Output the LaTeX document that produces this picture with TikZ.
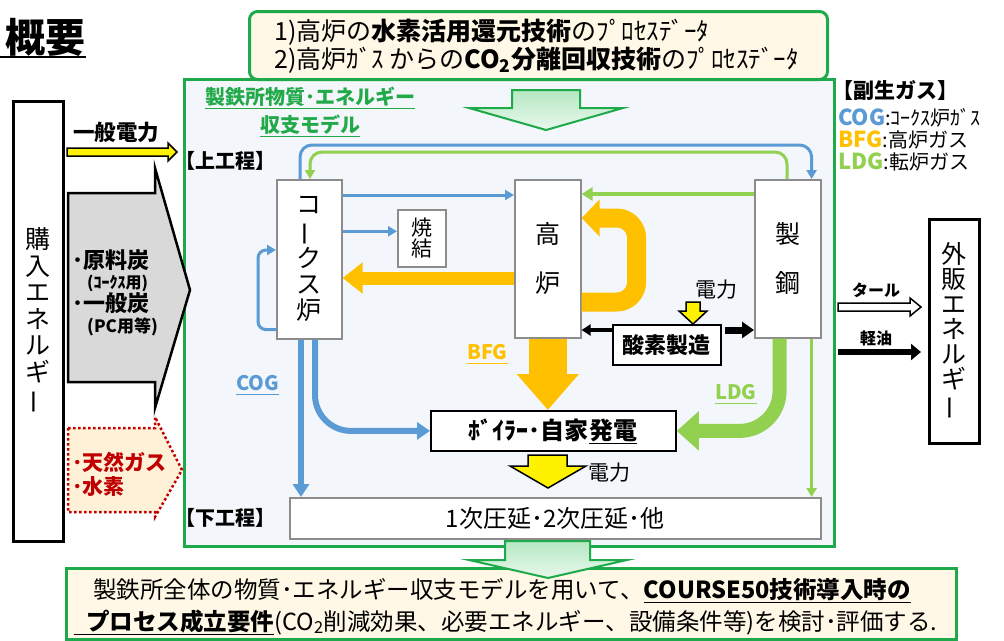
\documentclass[tikz,border=0pt]{standalone}
\usepackage{fontspec}
\setmainfont{Noto Sans CJK JP}
\usepackage{graphicx}
\usetikzlibrary{arrows.meta}
\definecolor{gborder}{HTML}{1EAA4A}
\definecolor{gtext}{HTML}{22AA4A}
\definecolor{cob}{HTML}{5B9BD5}
\definecolor{bfo}{HTML}{FFC000}
\definecolor{ldg}{HTML}{92D050}
\definecolor{cream}{HTML}{FFF8E6}
\definecolor{panel}{HTML}{F3F6FA}
\definecolor{graya}{HTML}{D9D9D9}
\definecolor{darkred}{HTML}{C00000}
\definecolor{creamred}{HTML}{FFF0D8}
\definecolor{boxgray}{HTML}{8C8C8C}
\definecolor{ltgreen}{HTML}{B5E8C2}
\newcommand{\fsz}[1]{\fontsize{#1}{#1}\selectfont}
\newcommand{\vbar}{\rotatebox[origin=c]{90}{ー}}
\begin{document}
\begin{tikzpicture}[x=1pt,y=-1pt,
  proc/.style={draw=boxgray, fill=white, line width=1.6pt, inner sep=0pt, anchor=north west, align=center},
  blk/.style={draw=black, fill=white, line width=1.8pt, inner sep=0pt, anchor=north west, align=center},
  lbl/.style={inner sep=0pt},
  uline/.style={line width=1.8pt},
  cobarr/.style={draw=cob, line width=3pt, -{Triangle[length=9pt,width=10pt]}},
  ldgarr/.style={draw=ldg, line width=3pt, -{Triangle[length=9pt,width=10pt]}},
  blockarr/.style={draw=black, line width=1.5pt, line join=miter}
]
\useasboundingbox (0,0) rectangle (1004,640);
\fill[white] (0,0) rectangle (1004,640);
\coordinate (origin) at (0,0);

% title
\node[lbl, anchor=base east, font=\bfseries\fsz{40}] (title) at (86,52) {概要};
\coordinate (tl) at ([yshift=-5pt]title.base east);
\draw[line width=2.2pt] (tl -| origin) -- (tl);

% main panel
\node[draw=gborder, fill=panel, line width=3pt, minimum width=650pt, minimum height=467pt, anchor=north west, inner sep=0pt] (panel) at (183,78) {};

% top box
\node[draw=gborder, fill=cream, line width=3pt, rounded corners=8pt, minimum width=578pt, minimum height=68pt, anchor=north west, inner sep=0pt] (topbox) at (248,10) {};
\node[lbl, anchor=base west, font=\fsz{25}] (t1) at (274,40) {1)高炉の\textbf{水素活用還元技術}のﾌﾟﾛｾｽﾃﾞｰﾀ};
\node[lbl, anchor=base west, font=\fsz{25}] (t2) at (274,68) {2)高炉ｶﾞｽ からの\textbf{CO\textsubscript{2}分離回収技術}のﾌﾟﾛｾｽﾃﾞｰﾀ};

% top green block arrow
\draw[draw=gborder, line width=2pt, top color=ltgreen, bottom color=ltgreen!30!white] (512,90) -- (580,90) -- (580,108) -- (623,108) -- (546,130) -- (469,108) -- (512,108) -- cycle;

% model title
\node[lbl, anchor=base, font=\bfseries\fsz{20}, text=gtext] (mt1) at (310,104) {製鉄所物質･エネルギー};
\draw[uline, draw=gtext] ([yshift=-4.5pt]mt1.base west) -- ([yshift=-4.5pt]mt1.base east);
\node[lbl, anchor=base, font=\bfseries\fsz{20}, text=gtext] (mt2) at (310,132) {収支モデル};
\draw[uline, draw=gtext] ([yshift=-4.5pt]mt2.base west) -- ([yshift=-4.5pt]mt2.base east);

\node[lbl, anchor=base west, font=\bfseries\fsz{20}] (up) at (175,168) {【上工程】};
\node[lbl, anchor=base west, font=\bfseries\fsz{20}] (down) at (175,525) {【下工程】};

% legend
\node[lbl, anchor=base west, font=\bfseries\fsz{21}] (lg0) at (832,98) {【副生ガス】};
\node[lbl, anchor=base west, font=\fsz{20}] (lg1) at (838,125) {\textcolor{cob}{\bfseries\fsz{22}COG}:ｺｰｸｽ炉ｶﾞｽ};
\node[lbl, anchor=base west, font=\fsz{20}] (lg2) at (838,147) {\textcolor{bfo}{\bfseries\fsz{22}BFG}:高炉ガス};
\node[lbl, anchor=base west, font=\fsz{20}] (lg3) at (838,169) {\textcolor{ldg}{\bfseries\fsz{22}LDG}:転炉ガス};

% process boxes
\node[proc, minimum width=65pt, minimum height=159pt, font=\fontsize{25}{26}\selectfont] (coke) at (276,179) {コ\\\vbar\\ク\\ス\\炉};
\node[proc, minimum width=48pt, minimum height=57pt, font=\fontsize{21}{21}\selectfont] (sinter) at (397,209) {焼\\結};
\node[proc, minimum width=66pt, minimum height=158pt, font=\fontsize{25}{49}\selectfont] (bf) at (514,179) {高\\炉};
\node[proc, minimum width=66pt, minimum height=158pt, font=\fontsize{25}{49}\selectfont] (steel) at (754,179) {製\\鋼};
\node[blk, minimum width=108pt, minimum height=40pt, font=\bfseries\fsz{22}] (oxy) at (612,324) {酸素製造};
\node[blk, minimum width=245pt, minimum height=40pt] (boiler) at (430,410) {};
\node[lbl, anchor=base east, font=\bfseries\fsz{24}] (bt1) at (589,439) {ﾎﾞｲﾗｰ･自家};
\node[lbl, anchor=base west, font=\bfseries\fsz{24}] (bt2) at (bt1.base east) {発電};
\draw[uline, draw=black] ([yshift=-4.5pt]bt2.base west) -- ([yshift=-4.5pt]bt2.base east);
\node[proc, minimum width=531pt, minimum height=41pt, font=\fsz{24}] (roll) at (289,497) {1次圧延･2次圧延･他};

% top loops
\draw[cobarr, rounded corners=12pt] ([xshift=24pt]coke.north west) -- ++(0,-34) -| ([xshift=-10pt]steel.north east);
\draw[ldgarr, rounded corners=12pt] ([xshift=33pt]steel.north west) -- ++(0,-27) -| ([xshift=34pt]coke.north west);

% coke -> bf, steel -> bf
\draw[cobarr] ([yshift=-16pt]coke.north east) -- ([yshift=-16pt]bf.north west);
\draw[draw=ldg, line width=4.5pt, -{Triangle[length=11pt,width=13pt]}] ([yshift=-15pt]steel.north west) -- ([yshift=-15pt]bf.north east);

% coke -> sinter
\coordinate (s1) at ([yshift=7pt]sinter.west);
\draw[cobarr] (s1 -| coke.east) -- (s1);

% coke self loop
\draw[cobarr, rounded corners=8pt] ([yshift=10pt]coke.south west) -- ++(-18,0) |- ([yshift=-71pt]coke.north west);

% orange bf -> coke
\coordinate (o1) at ([yshift=-99pt]bf.north west);
\draw[draw=bfo, line width=13pt, -{Triangle[length=20pt,width=30pt]}] (o1) -- (o1 -| coke.east);

% orange loop
\draw[draw=bfo, line width=19pt, rounded corners=20pt, -{Triangle[length=18pt,width=36pt]}] ([yshift=-123pt]bf.north east) -- ++(55,0) |- ([yshift=-39pt]bf.north east);

% BFG down
\draw[draw=bfo, line width=38pt, -{Triangle[length=36pt,width=60pt]}] (bf.south) -- (bf.south |- boiler.north);
\node[lbl, anchor=base west, font=\bfseries\fsz{20}, text=bfo] (bfg) at (467,359) {BFG};
\draw[uline, draw=bfo] ([yshift=-4.5pt]bfg.base west) -- ([yshift=-4.5pt]bfg.base east);

% COG
\coordinate (c1) at ([xshift=25pt]coke.south west);
\draw[draw=cob, line width=6pt, -{Triangle[length=13pt,width=16pt]}] (c1) -- (c1 |- roll.north);
\coordinate (c2) at ([xshift=39pt]coke.south west);
\draw[draw=cob, line width=6pt, rounded corners=36pt, -{Triangle[length=13pt,width=17pt]}] (c2) |- (boiler.west);
\node[lbl, anchor=base west, font=\bfseries\fsz{20}, text=cob] (cog) at (236,390) {COG};
\draw[uline, draw=cob] ([yshift=-4.5pt]cog.base west) -- ([yshift=-4.5pt]cog.base east);

% LDG
\coordinate (g1) at ([xshift=-42pt]steel.south east);
\draw[draw=ldg, line width=14pt, rounded corners=40pt, -{Triangle[length=22pt,width=38pt]}] (g1) |- (boiler.east);
\coordinate (g2) at ([xshift=-10pt]steel.south east);
\draw[ldgarr, line width=2.5pt] (g2) -- (g2 |- roll.north);
\node[lbl, anchor=base west, font=\bfseries\fsz{20}, text=ldg] (ldgl) at (715,399) {LDG};
\draw[uline, draw=ldg] ([yshift=-4.5pt]ldgl.base west) -- ([yshift=-4.5pt]ldgl.base east);

% oxygen arrows
\coordinate (ox1) at ([yshift=-6pt]oxy.north west);
\draw[draw=black, line width=3.5pt, -{Triangle[length=9pt,width=11pt]}] (ox1) -- (ox1 -| bf.east);
\coordinate (ox2) at ([yshift=-6pt]oxy.north east);
\draw[draw=black, line width=7pt, -{Triangle[length=12pt,width=16pt]}] ([xshift=3pt]ox2) -- (ox2 -| steel.west);

% power into oxygen
\node[lbl, anchor=base, font=\fsz{21}] (pw1) at (716,297) {電力};
\draw[blockarr, fill=yellow] (686,302) -- (700,302) -- (700,311) -- (707,311) -- (693,324) -- (679,311) -- (686,311) -- cycle;

% power from boiler
\draw[blockarr, fill=yellow] (528,455) -- (567,455) -- (567,466) -- (586,466) -- (548,488) -- (510,466) -- (528,466) -- cycle;
\node[lbl, anchor=base west, font=\fsz{21}] (pw2) at (588,480) {電力};

% left side
\node[draw=black, fill=white, line width=2.5pt, minimum width=50pt, minimum height=440pt, anchor=north west, inner sep=0pt, align=center, font=\fontsize{25}{26.5}\selectfont] (buy) at (12,100) {購\\入\\エ\\ネ\\ル\\ギ\\\vbar};
\node[lbl, anchor=base west, font=\bfseries\fsz{21.5}] (ippan) at (73,140) {一般電力};
\draw[blockarr, fill=yellow] (67,148) -- (168,148) -- (168,143) -- (177,152) -- (168,161) -- (168,156) -- (67,156) -- cycle;

\draw[draw=black, line width=2.5pt, fill=graya, line join=miter] (68,193) -- (155,193) -- (155,168) -- (190,290) -- (155,408) -- (155,382) -- (68,382) -- cycle;
\node[lbl, anchor=base west, font=\bfseries\fsz{22}] (coal1) at (72,268) {･原料炭};
\node[lbl, anchor=base west, font=\bfseries\fsz{16}] (coal1b) at (87,288) {(ｺｰｸｽ用)};
\node[lbl, anchor=base west, font=\bfseries\fsz{22}] (coal2) at (72,311) {･一般炭};
\node[lbl, anchor=base west, font=\bfseries\fsz{17}] (coal2b) at (87,332) {(PC用等)};

\draw[draw=darkred, line width=2.5pt, dash pattern=on 2.5pt off 2.5pt, fill=creamred] (68,428) -- (155,428) -- (155,417) -- (182,470) -- (155,517) -- (155,512) -- (68,512) -- cycle;
\node[lbl, anchor=base west, font=\bfseries\fsz{21}, text=darkred] (gas1) at (72,470) {･天然ガス};
\node[lbl, anchor=base west, font=\bfseries\fsz{21}, text=darkred] (gas2) at (72,494) {･水素};

% right side
\node[draw=black, fill=white, line width=2.5pt, minimum width=50pt, minimum height=224pt, anchor=north west, inner sep=0pt, align=center, font=\fontsize{25}{25}\selectfont] (sell) at (928,218) {外\\販\\エ\\ネ\\ル\\ギ\\\vbar};
\node[lbl, anchor=base, font=\bfseries\fsz{16}] (tar) at (876,296) {タール};
\draw[draw=black, line width=1.5pt, fill=white, line join=miter] (838,303) -- (910,303) -- (910,298) -- (921,307) -- (910,316) -- (910,311) -- (838,311) -- cycle;
\node[lbl, anchor=base, font=\bfseries\fsz{16}] (oil) at (876,344) {軽油};
\coordinate (k1) at (838,352);
\coordinate (k2) at (921,352);
\draw[draw=black, line width=6pt, -{Triangle[length=10pt,width=16pt]}] (k1) -- (k2);

% bottom
\node[draw=gborder, fill=cream, line width=3pt, minimum width=890pt, minimum height=71pt, anchor=north west, inner sep=0pt] (botbox) at (65,567) {};
\draw[draw=gborder, line width=2pt, top color=ltgreen, bottom color=ltgreen!30!white] (505,541) -- (590,541) -- (590,560) -- (627,560) -- (548,578) -- (469,560) -- (505,560) -- cycle;
\node[lbl, anchor=base west, font=\fsz{23.5}] (b1a) at (93,598) {製鉄所全体の物質･エネルギー収支モデルを用いて、};
\node[lbl, anchor=base west, font=\bfseries\fsz{23.5}] (b1b) at (b1a.base east) {COURSE50技術導入時の};
\draw[uline, draw=black] ([yshift=-4.5pt]b1b.base west) -- ([yshift=-4.5pt]b1b.base east);
\node[lbl, anchor=base west, font=\bfseries\fsz{23.5}] (b2a) at (86,630) {プロセス成立要件};
\draw[uline, draw=black] ([yshift=-4.5pt,xshift=-12pt]b2a.base west) -- ([yshift=-4.5pt]b2a.base east);
\node[lbl, anchor=base west, font=\fsz{23.5}] (b2b) at (b2a.base east) {(CO\textsubscript{2}削減効果、必要エネルギー、設備条件等)を検討･評価する.};
\end{tikzpicture}
\end{document}
